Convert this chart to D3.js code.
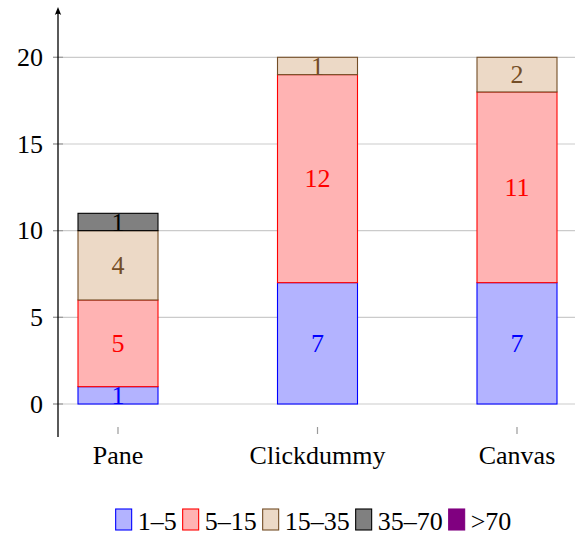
<!DOCTYPE html>
<html>
<head>
<meta charset="utf-8">
<script src="https://cdn.jsdelivr.net/npm/d3@7"></script>
</head>
<body style="margin:0">
<svg id="barplot" width="582" height="539"></svg>
<script>
// Categories, series and values
const categories = ["Pane", "Clickdummy", "Canvas"];
const seriesNames = ["1–5", "5–15", "15–35", "35–70", ">70"];
const range1to5 = [1, 7, 7];
const range5to15 = [5, 12, 11];
const range15to35 = [4, 1, 2];
const range35to70 = [1, 0, 0];
const rangeOver70 = [0, 0, 0];
const yTickValues = [0, 5, 10, 15, 20];

const seriesValues = [range1to5, range5to15, range15to35, range35to70, rangeOver70];
const strokeColors = ["#0000ff", "#ff0000", "#734d26", "#000000", "#800080"];
const fillColors = ["#b3b3ff", "#ffb3b3", "#ecd9c6", "#808080", "#800080"];

// all text uses the same serif face
function serifText(sel) {
  sel.style("font-family", "'Liberation Serif', 'Times New Roman', serif", "important");
  return sel;
}

// table rows for d3.stack
const rows = categories.map((c, i) => {
  const r = { category: c };
  seriesNames.forEach((s, k) => { r[s] = seriesValues[k][i]; });
  return r;
});
const stacked = d3.stack().keys(seriesNames)(rows);

const svg = d3.select("#barplot");
const fontSize = 26;
const halfDigit = 8.8;

const x = d3.scalePoint().domain(categories).range([118, 517]);
const y = d3.scaleLinear().domain([0, 20]).range([404, 57.3]);
const barWidth = 80;
const axisX = 58;
const gridLeft = 53, gridRight = 575;

// horizontal grid lines
svg.append("g").selectAll("line").data(yTickValues).join("line")
  .attr("x1", gridLeft).attr("x2", gridRight)
  .attr("y1", d => y(d)).attr("y2", d => y(d))
  .attr("stroke", "#cbcbcb").attr("stroke-width", 1.2);

// y tick marks
svg.append("g").selectAll("line").data(yTickValues).join("line")
  .attr("x1", gridLeft).attr("x2", axisX + 5)
  .attr("y1", d => y(d)).attr("y2", d => y(d))
  .attr("stroke", "#9a9a9a").attr("stroke-width", 1.2);

// y tick labels
svg.append("g").selectAll("text").data(yTickValues).join("text")
  .attr("x", 43).attr("y", d => y(d) + halfDigit)
  .attr("text-anchor", "end")
  .attr("font-size", fontSize).attr("fill", "#000")
  .call(serifText)
  .text(d => d);

// bars
const layers = svg.append("g").selectAll("g").data(stacked).join("g");
layers.each(function(layer, k) {
  d3.select(this).selectAll("rect")
    .data(layer.filter(d => d[1] - d[0] > 0))
    .join("rect")
    .attr("x", d => x(d.data.category) - barWidth / 2)
    .attr("width", barWidth)
    .attr("y", d => y(d[1]))
    .attr("height", d => y(d[0]) - y(d[1]))
    .attr("fill", fillColors[k])
    .attr("stroke", strokeColors[k])
    .attr("stroke-width", 1.1);
});

// value labels in each segment
layers.each(function(layer, k) {
  d3.select(this).selectAll("text")
    .data(layer.filter(d => d[1] - d[0] > 0))
    .join("text")
    .attr("x", d => x(d.data.category))
    .attr("y", d => (y(d[0]) + y(d[1])) / 2 + halfDigit)
    .attr("text-anchor", "middle")
    .attr("font-size", fontSize)
    .attr("fill", strokeColors[k])
    .call(serifText)
    .text(d => d[1] - d[0]);
});

// y axis line with arrow head
const axisBottom = 437, axisTop = 7;
svg.append("line")
  .attr("x1", axisX).attr("x2", axisX)
  .attr("y1", axisBottom).attr("y2", axisTop + 3)
  .attr("stroke", "#000").attr("stroke-width", 1.3);
svg.append("path")
  .attr("d", `M${axisX},${axisTop} L${axisX - 3.2},${axisTop + 8} Q${axisX},${axisTop + 5.5} ${axisX + 3.2},${axisTop + 8} Z`)
  .attr("fill", "#000");

// x ticks and labels
svg.append("g").selectAll("line").data(categories).join("line")
  .attr("x1", d => x(d)).attr("x2", d => x(d))
  .attr("y1", 427).attr("y2", 434)
  .attr("stroke", "#9a9a9a").attr("stroke-width", 1.2);
svg.append("g").selectAll("text").data(categories).join("text")
  .attr("x", d => x(d)).attr("y", 464)
  .attr("text-anchor", "middle")
  .attr("font-size", fontSize).attr("fill", "#000")
  .call(serifText)
  .text(d => d);

// legend
const legend = svg.append("g");
const boxW = 16, boxH = 21, boxToText = 6, itemGap = 6;
const legendBaseline = 530;
const items = legend.selectAll("g").data(seriesNames).join("g");
items.append("rect")
  .attr("width", boxW).attr("height", boxH)
  .attr("y", legendBaseline - boxH)
  .attr("fill", (d, k) => fillColors[k])
  .attr("stroke", (d, k) => strokeColors[k])
  .attr("stroke-width", 1.1);
items.append("text")
  .attr("x", boxW + boxToText).attr("y", legendBaseline)
  .attr("font-size", fontSize).attr("fill", "#000")
  .call(serifText)
  .text(d => d);
let offset = 0;
const widths = [];
items.each(function() {
  const w = boxW + boxToText + d3.select(this).select("text").node().getComputedTextLength();
  widths.push(w);
});
const total = d3.sum(widths) + itemGap * (widths.length - 1);
const legendCenter = 313.5;
offset = legendCenter - total / 2;
items.attr("transform", (d, k) => {
  const t = `translate(${offset},0)`;
  offset += widths[k] + itemGap;
  return t;
});
</script>
</body>
</html>
